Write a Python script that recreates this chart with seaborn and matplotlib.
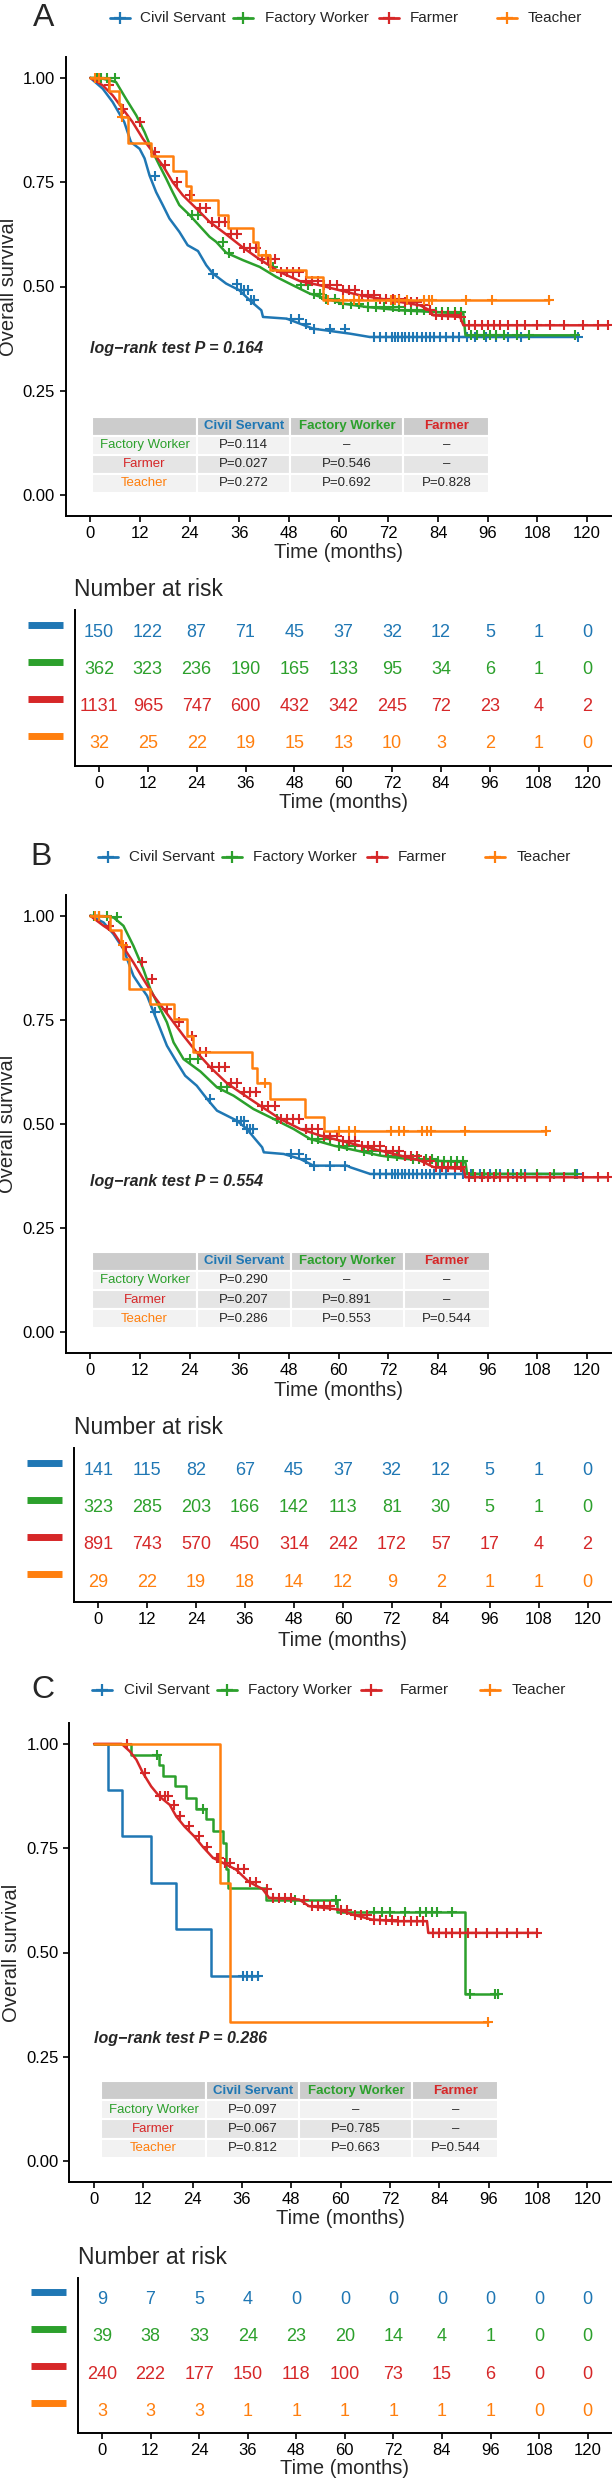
import numpy as np
import pandas as pd
import matplotlib
matplotlib.use("Agg")
import matplotlib.pyplot as plt
import matplotlib.transforms as mtransforms
from matplotlib.lines import Line2D
import seaborn as sns

groups = ["Civil Servant", "Factory Worker", "Farmer", "Teacher"]
colors = ["#1F77B4", "#2CA02C", "#D62728", "#FF7F0E"]
months = [0, 12, 24, 36, 48, 60, 72, 84, 96, 108, 120]

# ---- panel A curves (time, survival) ----
A_civil_t = [0, 3.0, 5.4, 8.2, 9.8, 11.9, 13.1, 14.3, 15.9, 17.5, 19.1, 21.5, 23.5, 26.0, 28.0, 29.6, 32.8, 36.0,
             38.5, 41.3, 41.7, 47.4, 50.6, 53.8, 62.7, 67.5, 117.8]
A_civil_s = [1, 0.974, 0.942, 0.894, 0.846, 0.830, 0.807, 0.766, 0.726, 0.695, 0.663, 0.631, 0.599, 0.585, 0.551,
             0.531, 0.507, 0.491, 0.467, 0.443, 0.427, 0.423, 0.411, 0.399, 0.387, 0.379, 0.379]
A_factory_t = [0, 2.2, 6.2, 8.6, 11.1, 13.1, 15.1, 16.7, 18.3, 19.9, 21.5, 24.0, 26.4, 28.8, 30.4, 32.8, 36.9, 40.9,
               44.9, 48.9, 53.0, 57.0, 61.0, 66.7, 74.8, 82.8, 90.1, 90.6, 117.0]
A_factory_s = [1, 1.0, 0.99, 0.95, 0.91, 0.87, 0.822, 0.79, 0.759, 0.726, 0.695, 0.671, 0.645, 0.619, 0.607, 0.581,
               0.563, 0.547, 0.523, 0.503, 0.483, 0.471, 0.459, 0.451, 0.443, 0.439, 0.435, 0.383, 0.383]
A_farmer_t = [0, 3.0, 5.4, 7.8, 10.2, 12.7, 15.1, 17.5, 19.9, 22.3, 25.6, 28.8, 32.8, 36.9, 40.9, 45.7, 50.6, 55.4,
              60.2, 65.1, 69.9, 74.8, 79.6, 82.0, 82.8, 89.3, 90.1, 125.0]
A_farmer_s = [1, 0.982, 0.958, 0.926, 0.894, 0.854, 0.822, 0.790, 0.750, 0.719, 0.687, 0.655, 0.625, 0.593, 0.565,
              0.535, 0.513, 0.503, 0.491, 0.479, 0.471, 0.463, 0.455, 0.443, 0.431, 0.427, 0.407, 0.407]
A_teacher_t = [0, 4.6, 7.0, 7.4, 9.0, 14.7, 19.9, 23.1, 24.3, 30.8, 33.2, 39.3, 40.5, 43.3, 52.2, 56.2, 110.8]
A_teacher_s = [1, 0.969, 0.938, 0.906, 0.844, 0.812, 0.777, 0.742, 0.707, 0.671, 0.639, 0.607, 0.575, 0.539, 0.523,
               0.467, 0.467]

A_civil_cens = [15.5, 29.7, 35.5, 36.5, 37.2, 38.0, 38.8, 39.5, 48.5, 50.5, 52.0, 54.0, 58.0, 61.5, 68.5, 70.0, 71.5,
                72.8, 73.6, 74.4, 75.2, 76.0, 77.0, 78.0, 79.0, 80.0, 81.0, 82.0, 83.0, 84.5, 86.0, 87.5, 89.0, 91.0,
                93.0, 95.5, 98.0, 101.0, 104.0, 117.8]
A_factory_cens = [1.5, 2.5, 4.0, 6.0, 24.5, 26.0, 32.0, 33.5, 44.0, 51.0, 52.5, 54.0, 55.5, 57.0, 59.0, 61.0, 63.0,
                  65.0, 67.0, 69.0, 71.0, 73.0, 74.5, 76.0, 77.5, 79.0, 80.5, 82.0, 83.5, 85.0, 86.5, 88.0, 89.5,
                  92.0, 93.5, 95.0, 96.5, 98.0, 100.0, 103.0, 106.0, 117.0]
A_farmer_cens = [2.0, 4.5, 8.0, 12.0, 15.5, 18.0, 21.0, 24.0, 26.5, 28.0, 29.5, 31.0, 32.5, 34.0, 35.5, 37.0, 38.5,
                 40.0, 41.5, 43.0, 44.5, 46.0, 47.5, 49.0, 50.5, 52.0, 53.5, 55.0, 56.5, 58.0, 59.5, 61.0, 62.5,
                 64.0, 65.5, 67.0, 68.5, 70.0, 71.5, 73.0, 74.5, 76.0, 77.5, 79.0, 80.5, 82.0, 83.5, 85.0, 86.5,
                 88.0, 89.5, 91.5, 93.0, 94.5, 96.0, 97.5, 99.0, 101.0, 103.0, 105.0, 108.0, 111.0, 114.5, 119.0,
                 122.5, 125.0]
A_teacher_cens = [1.2, 2.0, 7.6, 42.5, 57.5, 61.0, 63.6, 65.0, 72.5, 73.5, 74.5, 76.5, 80.6, 81.8, 82.6, 90.7,
                  97.0, 110.8]

# ---- panel B curves ----
B_civil_t = [0, 3.2, 5.6, 8.0, 10.4, 12.0, 13.7, 15.3, 16.9, 18.5, 20.9, 22.9, 25.7, 28.2, 30.6, 33.0, 35.4, 37.8,
             39.8, 41.5, 41.9, 46.7, 50.7, 53.9, 62.0, 62.8, 67.6, 117.5]
B_civil_s = [1, 0.984, 0.956, 0.920, 0.856, 0.832, 0.808, 0.768, 0.728, 0.688, 0.648, 0.616, 0.592, 0.560, 0.532,
             0.520, 0.508, 0.488, 0.464, 0.444, 0.432, 0.428, 0.416, 0.400, 0.400, 0.396, 0.380, 0.380]
B_factory_t = [0, 1.6, 5.6, 8.0, 10.4, 12.8, 14.5, 16.1, 18.5, 20.1, 22.5, 26.6, 30.6, 34.6, 39.4, 44.3, 49.1, 53.1,
               58.8, 64.4, 70.1, 76.5, 83.0, 90.6, 91.0, 117.0]
B_factory_s = [1, 1.0, 0.996, 0.976, 0.928, 0.872, 0.824, 0.792, 0.744, 0.696, 0.656, 0.626, 0.588, 0.568, 0.536,
               0.512, 0.488, 0.464, 0.448, 0.436, 0.424, 0.416, 0.412, 0.408, 0.380, 0.380]
B_farmer_t = [0, 3.2, 5.6, 8.0, 10.4, 12.8, 15.3, 17.7, 20.1, 22.5, 25.7, 29.0, 33.0, 36.2, 41.0, 45.9, 50.7, 55.6,
              60.4, 65.2, 70.1, 74.9, 79.7, 83.0, 90.2, 90.6, 125.0]
B_farmer_s = [1, 0.976, 0.960, 0.924, 0.888, 0.848, 0.808, 0.776, 0.744, 0.712, 0.672, 0.636, 0.598, 0.576, 0.544,
              0.512, 0.488, 0.472, 0.460, 0.448, 0.436, 0.424, 0.412, 0.396, 0.392, 0.372, 0.372]
B_teacher_t = [0, 4.8, 7.4, 8.0, 9.3, 14.5, 20.1, 23.3, 24.9, 39.0, 40.3, 43.5, 51.9, 56.4, 110.0]
B_teacher_s = [1, 0.966, 0.931, 0.897, 0.824, 0.788, 0.751, 0.712, 0.673, 0.635, 0.599, 0.559, 0.518, 0.483, 0.483]

B_civil_cens = [15.5, 29.0, 35.5, 36.3, 37.0, 37.8, 38.6, 39.4, 48.5, 50.5, 52.0, 54.0, 58.0, 61.5, 68.5, 70.0, 71.5,
                72.8, 73.6, 74.4, 75.2, 76.0, 77.0, 78.0, 79.0, 80.0, 81.0, 82.0, 83.0, 84.5, 86.0, 88.0, 90.0, 92.0,
                94.0, 96.5, 99.0, 102.0, 105.0, 117.5]
B_factory_cens = [1.0, 2.0, 4.0, 6.5, 24.0, 26.0, 31.5, 33.0, 45.0, 52.0, 53.5, 55.0, 56.5, 58.0, 60.0, 62.0, 64.0,
                  66.0, 68.0, 70.0, 72.0, 74.0, 76.0, 78.0, 79.5, 81.0, 82.5, 84.0, 85.5, 87.0, 88.5, 90.0, 92.5,
                  95.0, 98.0, 101.0, 104.0, 108.0, 112.0, 117.0]
B_farmer_cens = [2.0, 4.5, 8.5, 12.5, 15.0, 18.5, 21.5, 24.5, 26.5, 28.0, 29.5, 31.0, 32.5, 34.0, 35.5, 37.0, 38.5,
                 40.0, 41.5, 43.0, 44.5, 46.0, 47.5, 49.0, 50.5, 52.0, 53.5, 55.0, 56.5, 58.0, 59.5, 61.0, 62.5,
                 64.0, 65.5, 67.0, 68.5, 70.0, 71.5, 73.0, 74.5, 76.0, 77.5, 79.0, 80.5, 82.0, 83.5, 85.0, 86.5,
                 88.0, 89.5, 91.5, 93.0, 94.5, 96.0, 97.5, 99.0, 101.0, 103.0, 105.0, 108.0, 111.0, 114.5, 119.0,
                 122.5, 125.0]
B_teacher_cens = [1.2, 2.0, 7.8, 42.3, 60.0, 62.4, 64.0, 72.5, 74.5, 75.7, 80.1, 81.4, 82.2, 90.6, 110.0]

# ---- panel C curves ----
C_civil_t = [0, 3.4, 6.9, 13.9, 20.0, 28.5, 39.8]
C_civil_s = [1, 0.889, 0.778, 0.667, 0.556, 0.444, 0.444]
C_factory_t = [0, 9.1, 15.9, 16.7, 19.6, 22.4, 24.8, 27.3, 28.9, 31.4, 32.1, 32.7, 41.8, 59.1, 90.2, 98.3]
C_factory_s = [1, 0.974, 0.950, 0.924, 0.898, 0.871, 0.845, 0.820, 0.790, 0.763, 0.700, 0.655, 0.627, 0.598,
               0.400, 0.400]
C_farmer_t = [0, 6.7, 8.7, 10.3, 11.9, 13.9, 15.9, 18.4, 20.0, 22.0, 24.4, 26.4, 28.9, 31.3, 34.5, 37.7, 41.0, 42.6,
              49.9, 52.3, 59.5, 62.8, 67.6, 73.3, 81.0, 81.3, 107.8]
C_farmer_s = [1, 1.0, 0.982, 0.962, 0.930, 0.898, 0.874, 0.854, 0.826, 0.802, 0.778, 0.754, 0.727, 0.715, 0.699,
              0.669, 0.652, 0.631, 0.627, 0.611, 0.603, 0.591, 0.579, 0.575, 0.575, 0.547, 0.547]
C_teacher_t = [0, 30.6, 33.1, 95.9]
C_teacher_s = [1, 0.667, 0.333, 0.333]

C_civil_cens = [36.2, 37.2, 38.5, 39.8]
C_factory_cens = [15.3, 26.4, 49.0, 58.9, 68.0, 70.0, 72.0, 75.7, 79.3, 80.8, 82.2, 83.4, 87.0, 91.4, 97.5, 98.3]
C_farmer_cens = [8.0, 12.5, 16.0, 17.2, 18.0, 19.5, 21.0, 23.0, 25.5, 27.5, 29.8, 30.5, 31.8, 33.0, 35.0, 36.5,
                 38.0, 39.5, 42.0, 43.5, 45.0, 46.5, 48.0, 51.0, 53.0, 54.5, 56.0, 57.5, 60.0, 61.5, 63.5, 65.0,
                 66.5, 68.0, 69.5, 71.0, 72.5, 74.0, 75.5, 77.0, 78.5, 80.0, 82.5, 84.0, 85.5, 87.0, 89.0, 91.0,
                 93.0, 95.5, 98.0, 100.5, 103.0, 105.5, 107.8]
C_teacher_cens = [95.9]

# ---- numbers at risk ----
A_risk = [[150, 122, 87, 71, 45, 37, 32, 12, 5, 1, 0],
          [362, 323, 236, 190, 165, 133, 95, 34, 6, 1, 0],
          [1131, 965, 747, 600, 432, 342, 245, 72, 23, 4, 2],
          [32, 25, 22, 19, 15, 13, 10, 3, 2, 1, 0]]
B_risk = [[141, 115, 82, 67, 45, 37, 32, 12, 5, 1, 0],
          [323, 285, 203, 166, 142, 113, 81, 30, 5, 1, 0],
          [891, 743, 570, 450, 314, 242, 172, 57, 17, 4, 2],
          [29, 22, 19, 18, 14, 12, 9, 2, 1, 1, 0]]
C_risk = [[9, 7, 5, 4, 0, 0, 0, 0, 0, 0, 0],
          [39, 38, 33, 24, 23, 20, 14, 4, 1, 0, 0],
          [240, 222, 177, 150, 118, 100, 73, 15, 6, 0, 0],
          [3, 3, 3, 1, 1, 1, 1, 1, 1, 0, 0]]

# ---- pairwise p values (rows: Factory Worker, Farmer, Teacher) ----
A_pairs = [[0.114, None, None], [0.027, 0.546, None], [0.272, 0.692, 0.828]]
B_pairs = [[0.290, None, None], [0.207, 0.891, None], [0.286, 0.553, 0.544]]
C_pairs = [[0.097, None, None], [0.067, 0.785, None], [0.812, 0.663, 0.544]]
logrank_p = [0.164, 0.554, 0.286]

W, H = 612, 2480


def rect(left, top, right, bottom):
    return [left / W, 1 - bottom / H, (right - left) / W, (bottom - top) / H]


def draw_surv(ax, curves, censors, steps):
    for (t, s), cens, c, st in zip(curves, censors, colors, steps):
        df = pd.DataFrame({"time": t, "surv": s})
        sns.lineplot(data=df, x="time", y="surv", color=c, lw=1.8, estimator=None, sort=False,
                     drawstyle="steps-post" if st else "default", ax=ax)
        idx = np.searchsorted(t, cens, side="right") - 1
        ax.plot(cens, np.array(s)[idx], ls="none", marker="+", ms=7.5, mew=1.5, color=c)
    ax.set_xlim(-6, 126)
    ax.set_ylim(-0.05, 1.05)
    ax.set_xticks(months)
    ax.set_yticks([0, 0.25, 0.5, 0.75, 1.0])
    ax.set_yticklabels(["0.00", "0.25", "0.50", "0.75", "1.00"])
    ax.set_xlabel("")
    ax.set_ylabel("")


def draw_ptable(ax, pairs, bbox):
    cells = [[""] + groups[:3]]
    for g, row in zip(groups[1:], pairs):
        cells.append([g] + ["–" if p is None else "P=%.3f" % p for p in row])
    tb = ax.table(cellText=cells, bbox=bbox, colWidths=[0.264, 0.235, 0.285, 0.216], cellLoc="center")
    tb.auto_set_font_size(False)
    tb.set_fontsize(9.5)
    for (r, c), cell in tb.get_celld().items():
        cell.set_edgecolor("white")
        cell.set_linewidth(1.5)
        if r == 0:
            cell.set_facecolor("#CCCCCC")
            if c > 0:
                cell.get_text().set_color(colors[c - 1])
                cell.get_text().set_fontweight("bold")
        else:
            cell.set_facecolor("#F2F2F2" if r % 2 == 1 else "#E5E5E5")
            if c == 0:
                cell.get_text().set_color(colors[r])


def draw_risk(ax, risk, ylim):
    tr = mtransforms.blended_transform_factory(ax.transAxes, ax.transData)
    for i, (row, c) in enumerate(zip(risk, colors)):
        ypos = 4 - i
        for m, n in zip(months, row):
            ax.text(m, ypos, str(n), color=c, fontsize=13, ha="center", va="center")
        ax.plot([-0.087, -0.022], [ypos + 0.22, ypos + 0.22], color=c, lw=5, solid_capstyle="butt",
                transform=tr, clip_on=False)
    ax.set_xlim(-6, 126)
    ax.set_ylim(*ylim)
    ax.set_xticks(months)
    ax.set_yticks([])


def draw_legend(fig, y, handles_x, text_x):
    for x0, xt, g, c in zip(handles_x, text_x, groups, colors):
        fig.add_artist(Line2D([x0 / W, (x0 + 20) / W], [1 - y / H] * 2, color=c, lw=2.0))
        fig.add_artist(Line2D([(x0 + 10) / W], [1 - y / H], marker="+", ms=8, mew=1.6, color=c))
        fig.text(xt / W, 1 - y / H, g, fontsize=11, ha="left", va="center")


sns.set_theme(style="ticks")
plt.rcParams["font.family"] = ["Liberation Sans", "DejaVu Sans"]
plt.rcParams["axes.linewidth"] = 1.4
plt.rcParams["xtick.major.width"] = 1.2
plt.rcParams["ytick.major.width"] = 1.2
plt.rcParams["xtick.major.size"] = 4
plt.rcParams["ytick.major.size"] = 4
plt.rcParams["xtick.labelsize"] = 12
plt.rcParams["ytick.labelsize"] = 12
plt.rcParams["axes.edgecolor"] = "black"
plt.rcParams["xtick.color"] = "black"
plt.rcParams["ytick.color"] = "black"

fig = plt.figure(figsize=(W / 100, H / 100), dpi=100)

panels = [
    dict(letter="A", letter_xy=(44, 18.5), legend_y=18, hx=[110, 233, 379, 497], tx=[140, 265, 410, 528],
         surv=(65.5, 57, 612, 516), risk=(74.5, 610, 612, 766), risk_ylim=(0.40, 4.62),
         curves=[(A_civil_t, A_civil_s), (A_factory_t, A_factory_s), (A_farmer_t, A_farmer_s),
                 (A_teacher_t, A_teacher_s)],
         cens=[A_civil_cens, A_factory_cens, A_farmer_cens, A_teacher_cens],
         steps=[False, False, False, True], pairs=A_pairs, tbbox=[0.0489, 0.0501, 0.7264, 0.1662],
         lr_y=0.352, ylab_x=9, xlab_y=552, nar_xy=(74.5, 589), rxlab_y=802, risk_vals=A_risk),
    dict(letter="B", letter_xy=(41, 857), legend_y=857, hx=[98, 222, 367, 485], tx=[129, 253, 398, 517],
         surv=(65.5, 895, 612, 1353), risk=(73.8, 1448, 612, 1602), risk_ylim=(0.46, 4.62),
         curves=[(B_civil_t, B_civil_s), (B_factory_t, B_factory_s), (B_farmer_t, B_farmer_s),
                 (B_teacher_t, B_teacher_s)],
         cens=[B_civil_cens, B_factory_cens, B_farmer_cens, B_teacher_cens],
         steps=[False, False, False, True], pairs=B_pairs, tbbox=[0.0489, 0.0539, 0.7271, 0.1673],
         lr_y=0.362, ylab_x=8, xlab_y=1391, nar_xy=(74.5, 1427), rxlab_y=1640, risk_vals=B_risk),
    dict(letter="C", letter_xy=(43, 1690), legend_y=1690, hx=[92, 217, 361, 480], tx=[124, 248, 400, 512],
         surv=(69.4, 1723, 612, 2182), risk=(77.7, 2278, 612, 2433), risk_ylim=(0.41, 4.59),
         curves=[(C_civil_t, C_civil_s), (C_factory_t, C_factory_s), (C_farmer_t, C_farmer_s),
                 (C_teacher_t, C_teacher_s)],
         cens=[C_civil_cens, C_factory_cens, C_farmer_cens, C_teacher_cens],
         steps=[True, True, False, True], pairs=C_pairs, tbbox=[0.0586, 0.0529, 0.7317, 0.167],
         lr_y=0.295, ylab_x=12, xlab_y=2219, nar_xy=(78.5, 2257), rxlab_y=2469, risk_vals=C_risk),
]

for p, lr in zip(panels, logrank_p):
    ax = fig.add_axes(rect(*p["surv"]))
    draw_surv(ax, p["curves"], p["cens"], p["steps"])
    sns.despine(ax=ax)
    draw_ptable(ax, p["pairs"], p["tbbox"])
    ax.text(0, p["lr_y"], "log\u2212rank test P = %.3f" % lr, fontsize=11.5, fontweight="bold",
            style="italic", ha="left", va="center")

    l, t, r, b = p["surv"]
    fig.text(p["ylab_x"] / W, 1 - (t + b) / 2 / H, "Overall survival", rotation=90, fontsize=14.5,
             ha="center", va="center")
    fig.text((l + r) / 2 / W, 1 - p["xlab_y"] / H, "Time (months)", fontsize=14.5, ha="center", va="center")
    fig.text(p["letter_xy"][0] / W, 1 - p["letter_xy"][1] / H, p["letter"], fontsize=23, ha="center",
             va="center")
    draw_legend(fig, p["legend_y"], p["hx"], p["tx"])

    rax = fig.add_axes(rect(*p["risk"]))
    draw_risk(rax, p["risk_vals"], p["risk_ylim"])
    sns.despine(ax=rax)
    l, t, r, b = p["risk"]
    fig.text((l + r) / 2 / W, 1 - p["rxlab_y"] / H, "Time (months)", fontsize=14.5, ha="center", va="center")
    fig.text(p["nar_xy"][0] / W, 1 - p["nar_xy"][1] / H, "Number at risk", fontsize=16.5, ha="left",
             va="center")

fig.savefig("out.png", dpi=100)
